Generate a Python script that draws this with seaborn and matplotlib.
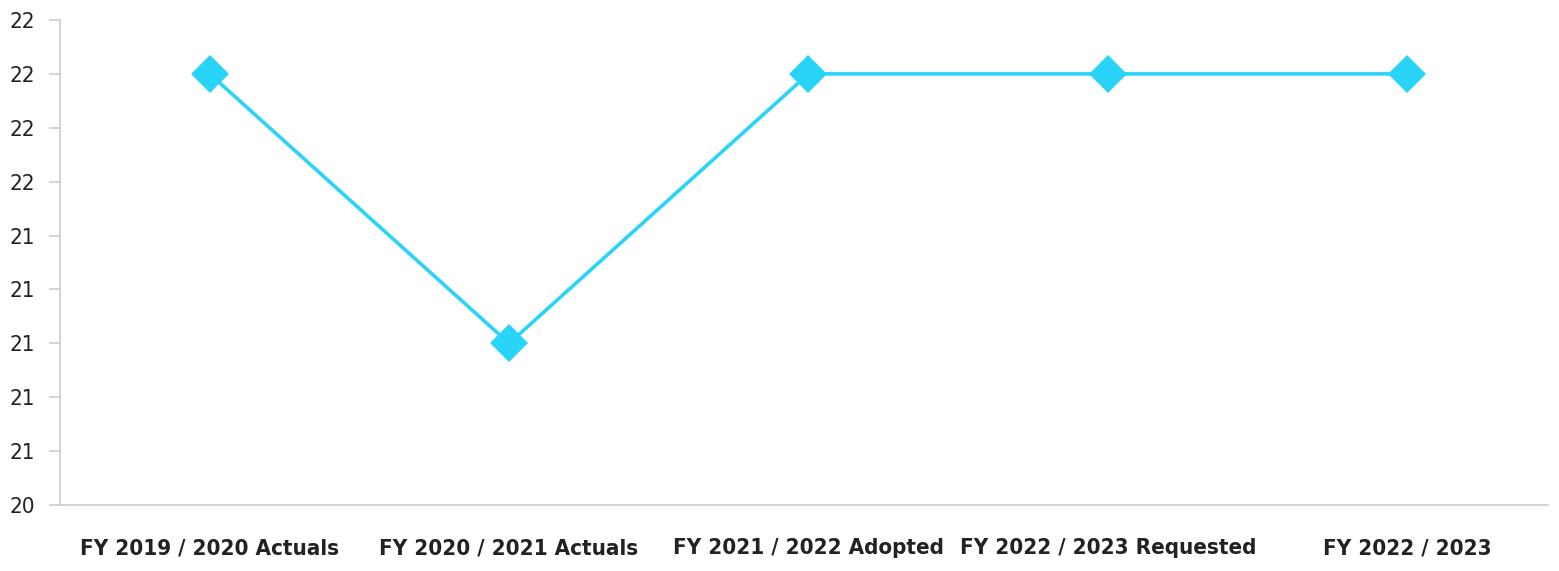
import matplotlib
matplotlib.use("Agg")
import matplotlib.pyplot as plt
import seaborn as sns
import pandas as pd
from matplotlib.ticker import FormatStrFormatter, MultipleLocator

categories = ["FY 2019 / 2020 Actuals", "FY 2020 / 2021 Actuals", "FY 2021 / 2022 Adopted",
              "FY 2022 / 2023 Requested", "FY 2022 / 2023"]
values = [22, 21, 22, 22, 22]

sns.set_style("white")
plt.rcParams['font.family'] = ['DejaVu Sans']
plt.rcParams['font.stretch'] = 'condensed'

df = pd.DataFrame({"cat": categories, "val": values})
fig = plt.figure(figsize=(15.59, 5.71), dpi=100)
ax = fig.add_axes([60/1559, 1-505/571, (1548-60)/1559, (505-20)/571])
color = "#2ad4f9"
sns.lineplot(data=df, x="cat", y="val", ax=ax, color=color, linewidth=2.6,
             marker="D", markersize=19, markeredgewidth=0, sort=False)
ax.set_xlim(-0.5, 4.47)
ax.set_ylim(20.4, 22.2)
ax.yaxis.set_major_locator(MultipleLocator(0.2))
ax.yaxis.set_major_formatter(FormatStrFormatter("%.0f"))
ax.set_xlabel("")
ax.set_ylabel("")
for s in ["top", "right"]:
    ax.spines[s].set_visible(False)
for s in ["left", "bottom"]:
    ax.spines[s].set_color("#cccccc")
    ax.spines[s].set_linewidth(1.2)
ax.tick_params(axis="y", length=8, width=1.2, color="#cccccc", labelsize=16, labelcolor="#222222", pad=10, left=True)
ax.tick_params(axis="x", length=0, labelsize=16, labelcolor="#222222", pad=24)
for lbl in ax.get_xticklabels():
    lbl.set_fontweight("bold")
    lbl.set_fontstretch("condensed")
for lbl in ax.get_yticklabels():
    lbl.set_fontstretch("condensed")
fig.savefig("out.png", dpi=100)
